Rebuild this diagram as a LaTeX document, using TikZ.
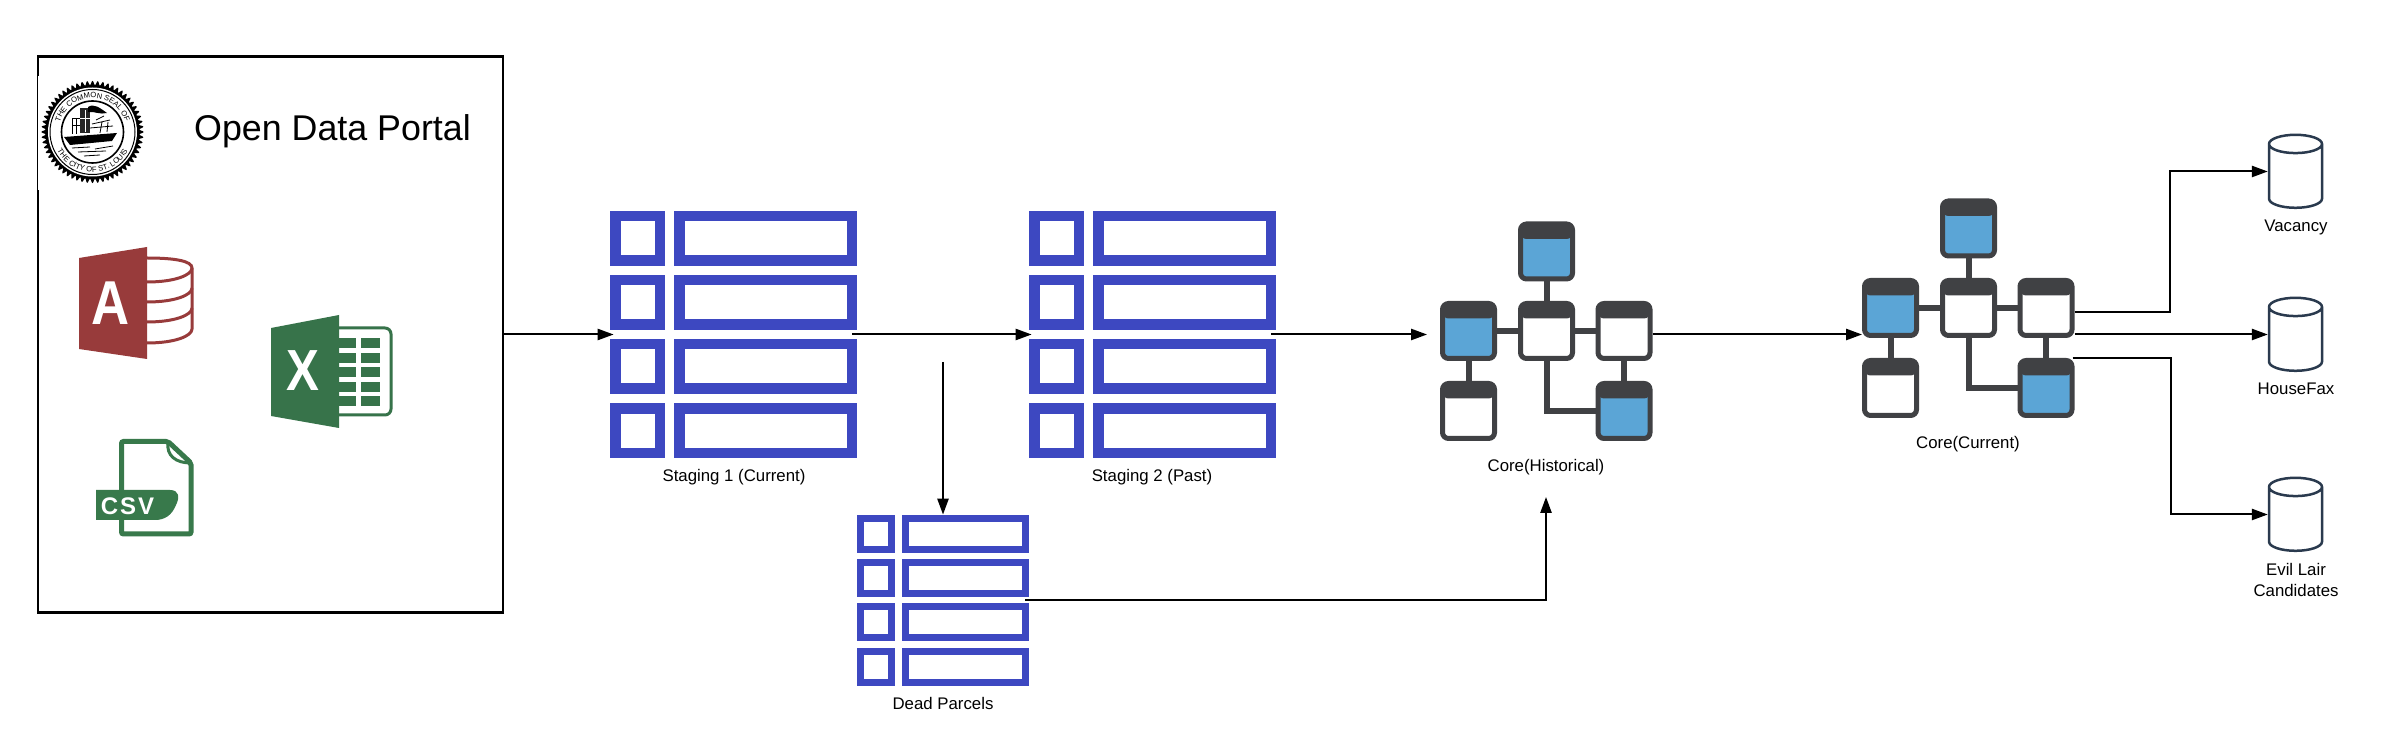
\documentclass[tikz,border=0pt]{standalone}
\usepackage{fontspec}
\setmainfont{Liberation Sans}
\newfontfamily\csvfont[LetterSpace=8]{Liberation Sans}
\usetikzlibrary{arrows.meta,positioning,calc,shapes.geometric,decorations.text}
\definecolor{tableblue}{HTML}{3D48C1}
\definecolor{dbdark}{HTML}{404144}
\definecolor{dbblue}{HTML}{5BA5D6}
\definecolor{cylline}{HTML}{2A3A4E}
\definecolor{accessred}{HTML}{983B3B}
\definecolor{excelgreen}{HTML}{37734A}
\definecolor{csvgreen}{HTML}{38794B}
\tikzset{
  rowkey/.style={draw=tableblue,line width=5.25pt,inner sep=0pt,minimum width=22.25pt,minimum height=22.25pt},
  rowbody/.style={rowkey,minimum width=86.25pt},
  rowkeysmall/.style={draw=tableblue,line width=3.6pt,inner sep=0pt,minimum width=15.4pt,minimum height=15.4pt},
  rowbodysmall/.style={rowkeysmall,minimum width=59.9pt},
  rowbound/.style={inner sep=0pt,minimum width=#1,minimum height=123.5pt},
  dbwhite/.style={draw=dbdark,line width=2.5pt,fill=white,rounded corners=3pt,inner sep=0pt,
    minimum width=26pt,minimum height=27.5pt,
    path picture={\fill[dbdark] (path picture bounding box.north west) rectangle ([yshift=-7.5pt]path picture bounding box.north east);}},
  dbfull/.style={dbwhite,fill=dbblue},
  dblink/.style={draw=dbdark,line width=3pt},
  output/.style={cylinder,shape border rotate=90,shape aspect=.345,draw=cylline,line width=1.25pt,fill=white,
    inner sep=0pt,text width=26.5pt,minimum width=26.5pt,minimum height=36.5pt},
  lbl/.style={font=\fontsize{8.4}{10.5}\selectfont,inner sep=0pt,align=center},
  arrow/.style={draw=black,line width=1pt,-{Triangle[length=8pt,width=5.6pt]}}
}
\begin{document}
\begin{tikzpicture}[x=0.5pt,y=-0.5pt]
  \path[use as bounding box,fill=white] (0,0) rectangle (2382,731);

  % source box
  \node[draw=black,line width=1.1pt,minimum width=232.5pt,minimum height=278pt,inner sep=0pt] at (270.5,334.5) (portal) {};
  \fill[white] (38,76) rectangle (145,190);
  \node[font=\fontsize{17.9}{22}\selectfont,inner sep=0pt] at (332.5,131.5) (portaltext) {Open Data Portal};

  % seal
  \fill[black] plot[samples=361,domain=0:360] ({92.5+(49+2.2*cos(60*mod(\x,6)))*cos(\x)},{132+(49+2.2*cos(60*mod(\x,6)))*sin(\x)}) -- cycle;
  \fill[white] (92.5,132) circle (44.5);
  \draw[black,line width=0.5pt] (92.5,132) circle (42.5);
  \draw[black,line width=0.8pt] (92.5,132) circle (31);
  \path[decorate,decoration={text along path,text align=center,
    text={|\fontsize{3.8}{4}\selectfont|THE COMMON SEAL OF}}]
    (58.5,132) arc[start angle=180,end angle=360,radius=34];
  \path[decorate,decoration={text along path,text align=center,
    text={|\fontsize{3.8}{4}\selectfont|THE CITY OF ST. LOUIS}}]
    (52.5,132) arc[start angle=180,end angle=0,radius=40];
  % steamboat
  \fill[black] (64,137) -- (117,133) -- (112,141) -- (70,145) -- cycle;
  \fill[black!85] (80,108) rectangle (90,133);
  \draw[white,line width=0.4pt] (85,110) -- (85,132) (80,118) -- (90,118);
  \draw[black,line width=0.5pt] (72,119) -- (72,134) (76,119) -- (76,134) (72,119) -- (80,119) (72,126) -- (80,126);
  \fill[black] (88,107) .. controls (94,103) and (100,108) .. (107,113) .. controls (100,115) and (94,111) .. (88,112) -- cycle;
  \draw[black,line width=0.4pt] (90,128) -- (113,126) (92,124) -- (110,120) (96,120) -- (104,116) (100,133) -- (102,122) (107,132) -- (108,122);
  \draw[black,line width=0.4pt] (72,148) -- (90,147) (95,149) -- (113,146) (78,152) -- (106,151) (84,156) -- (100,155);

  % access icon
  \draw[accessred,line width=1.5pt] (147,258) .. controls (175,258) and (192,261) .. (192,268) -- (192,329)
    .. controls (192,336) and (175,343) .. (147,343);
  \draw[accessred,line width=1.5pt] (192,268) .. controls (192,275) and (175,282) .. (147,282);
  \draw[accessred,line width=1.5pt] (192,288) .. controls (192,295) and (175,302) .. (147,302);
  \draw[accessred,line width=1.5pt] (192,308) .. controls (192,315) and (175,322) .. (147,322);
  \fill[accessred] (79,258) -- (147,247) -- (147,359) -- (79,349) -- cycle;
  \node[text=white,font=\fontsize{31}{31}\selectfont\bfseries,inner sep=0pt] at (110.5,303) (accessletter) {\scalebox{.85}[1]{A}};

  % excel icon
  \draw[excelgreen,line width=1.5pt,rounded corners=3pt] (335,328) -- (391,328) -- (391,415) -- (335,415);
  \foreach \ry in {338,353,367,382,396}{
    \fill[excelgreen] (339,\ry) rectangle (356,\ry+10);
    \fill[excelgreen] (361,\ry) rectangle (380,\ry+10);
  }
  \fill[excelgreen] (271,328) -- (339,315) -- (339,428) -- (271,416) -- cycle;
  \node[text=white,font=\fontsize{29}{29}\selectfont\bfseries,inner sep=0pt] at (303,371) (excelletter) {\scalebox{.85}[1]{X}};

  % csv icon
  \draw[csvgreen,line width=2.5pt,rounded corners=1pt] (121.5,490) -- (121.5,441.5) -- (168,441.5) -- (191,463) -- (191,534) -- (121.5,534) -- (121.5,520);
  \draw[csvgreen,line width=1.5pt] (168,441.5) .. controls (166,456) and (176,463) .. (191,463);
  \fill[csvgreen] (96,490) -- (170,490) .. controls (179,490) and (180,497) .. (176,505) .. controls (172,515) and (165,520) .. (155,520) -- (96,520) -- cycle;
  \node[text=white,font=\fontsize{12}{12}\csvfont\bfseries,inner sep=0pt] at (127.5,506) (csvletters) {CSV};

  % staging tables
  \node[rowbound=123.5pt] at (733.5,334.5) (stagingone) {};
  \node[rowbound=123.5pt] at (1152.5,334.5) (stagingtwo) {};
  \node[rowbound=86pt,minimum height=85.5pt] at (943,600.5) (deadparcels) {};
  \foreach \pre/\dx in {one/0,two/419}{
    \foreach \row/\ry in {1/238.5,2/302.5,3/366.5,4/431}{
      \node[rowkey] at (637.5+\dx,\ry) (key\pre\row) {};
      \node[rowbody] at (765.5+\dx,\ry) (body\pre\row) {};
    }
  }
  \foreach \row/\ry in {1/534,2/578,3/622,4/667}{
    \node[rowkeysmall] at (876,\ry) (keydead\row) {};
    \node[rowbodysmall] at (965.5,\ry) (bodydead\row) {};
  }
  \node[lbl] at (734,477.5) (stagingonelabel) {Staging 1 (Current)};
  \node[lbl] at (1152,477.5) (stagingtwolabel) {Staging 2 (Past)};
  \node[lbl] at (943,703) (deadlabel) {Dead Parcels};

  % core clusters
  \foreach \pre/\dx/\dy in {hist/0/0,curr/422/-23}{
    \begin{scope}[shift={(\dx,\dy)}]
      \node[dbfull] at (1546.5,251.5) (\pre top) {};
      \node[dbfull] at (1468.5,331) (\pre left) {};
      \node[dbwhite] at (1546.5,331) (\pre mid) {};
      \node[dbwhite] at (1624,331) (\pre right) {};
      \node[dbwhite] at (1468.5,411) (\pre low) {};
      \node[dbfull] at (1624,411) (\pre corner) {};
      \draw[dblink] (\pre top) -- (\pre mid);
      \draw[dblink] (\pre left) -- (\pre mid);
      \draw[dblink] (\pre mid) -- (\pre right);
      \draw[dblink] (\pre left) -- (\pre low);
      \draw[dblink] (\pre right) -- (\pre corner);
      \draw[dblink] (\pre mid) |- (\pre corner);
    \end{scope}
  }
  \node[lbl] at (1546,467.5) (histlabel) {Core(Historical)};
  \node[lbl] at (1968,444.5) (currlabel) {Core(Current)};

  % outputs
  \node[output] at (2295.5,176.5) (vacancy) {};
  \node[output] at (2295.5,339.5) (housefax) {};
  \node[output] at (2295.5,519.5) (evillair) {};
  \node[lbl] at (2296,227) (vacancylabel) {Vacancy};
  \node[lbl] at (2296,389) (housefaxlabel) {HouseFax};
  \node[lbl] at (2296,579.5) (evillairlabel) {Evil Lair\\Candidates};

  % flow
  \coordinate (deadfeed) at (943,362);
  \coordinate (histfeed) at (1546,497);
  \coordinate (histin) at (1427,334.5);
  \draw[arrow] (portal) -- ([xshift=2pt]stagingone.west);
  \draw[arrow] ([xshift=-2.5pt]stagingone.east) -- ([xshift=1.5pt]stagingtwo.west);
  \draw[arrow] (deadfeed) -- (deadparcels.north);
  \draw[arrow] ([xshift=-2pt]deadparcels.east) -| (histfeed);
  \draw[arrow] ([xshift=-2.5pt]stagingtwo.east) -- (histin);
  \draw[arrow] ([yshift=-1.75pt]histright.east) -- ([yshift=-13.25pt]currleft.west);
  \draw[arrow] ([yshift=-2pt]currright.east) -- ++(95,0) |- ([yshift=2.5pt]vacancy.west);
  \draw[arrow] ([yshift=-13.25pt]currright.east) -- ([yshift=2.5pt]housefax.west);
  \draw[arrow] ([xshift=-1pt]currcorner.north east) -- ++(98,0) |- ([yshift=2.5pt]evillair.west);
\end{tikzpicture}
\end{document}
